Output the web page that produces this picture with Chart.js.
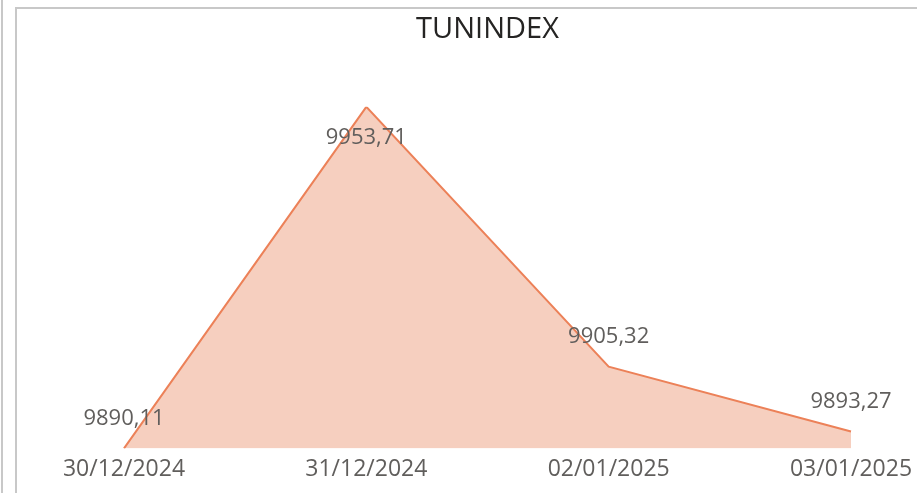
<!DOCTYPE html>
<html>
<head>
<meta charset="utf-8">
<script src="https://cdn.jsdelivr.net/npm/chart.js@4"></script>
<style>
  html, body { margin: 0; padding: 0; background: #fff; overflow: hidden; }
  #wrap { position: relative; width: 917px; height: 493px; }
  #edgeOuter { position: absolute; left: 1px; top: 0; width: 2px; height: 493px; background: #c8c8c8; }
  #frame { position: absolute; left: 15px; top: 7px; right: 0; bottom: 0;
           border-left: 2px solid #c8c8c8; border-top: 2px solid #c8c8c8; }
  canvas { position: absolute; left: 0; top: 0; }
</style>
</head>
<body>
<div id="wrap">
  <div id="edgeOuter"></div>
  <div id="frame"></div>
  <canvas id="chart" width="917" height="493"></canvas>
</div>
<script>
// データ
const dates = ["30/12/2024", "31/12/2024", "02/01/2025", "03/01/2025"];
const closeValues = [9890.11, 9953.71, 9905.32, 9893.27];
const yMin = 9890.11;
const yMax = 9953.71;

// 小数点をカンマで表示
function formatValue(v) {
  return v.toFixed(2).replace(".", ",");
}

// 値ラベルを描くプラグイン
const valueLabels = {
  id: "valueLabels",
  afterDatasetsDraw(chart, args, opts) {
    const ctx = chart.ctx;
    const meta = chart.getDatasetMeta(0);
    ctx.save();
    ctx.font = "22px 'Open Sans'";
    ctx.fillStyle = "#605E5C";
    ctx.textAlign = "center";
    ctx.textBaseline = "middle";
    meta.data.forEach((pt, i) => {
      const below = opts.below.includes(i);
      const dy = below ? 31 : -30;
      ctx.fillText(formatValue(closeValues[i]), pt.x, pt.y + dy);
    });
    ctx.restore();
  }
};

const ctx = document.getElementById("chart").getContext("2d");
new Chart(ctx, {
  type: "line",
  data: {
    labels: dates,
    datasets: [{
      data: closeValues,
      borderColor: "#EC8158",
      borderWidth: 2,
      backgroundColor: "#F6CFBF",
      fill: "start",
      pointRadius: 0,
      tension: 0,
    }],
  },
  options: {
    responsive: false,
    animation: false,
    layout: {
      padding: { left: 124, right: 66, top: 0, bottom: 3 },
    },
    scales: {
      x: {
        offset: false,
        grid: { display: false, drawTicks: false },
        border: { display: false },
        ticks: {
          color: "#605E5C",
          font: { family: "'Open Sans'", size: 23 },
          padding: 7,
          maxRotation: 0,
          autoSkip: false,
        },
        // 端のラベル分の余白は layout.padding で確保済み
        afterFit(scale) {
          scale.paddingLeft = 0;
          scale.paddingRight = 0;
        },
      },
      y: {
        display: false,
        min: yMin,
        max: yMax,
      },
    },
    plugins: {
      legend: { display: false },
      tooltip: { enabled: false },
      title: {
        display: true,
        text: "TUNINDEX",
        color: "#252423",
        font: { family: "'Open Sans'", size: 29, weight: "500" },
        padding: { top: 12, bottom: 60 },
      },
      valueLabels: { below: [1] },
    },
  },
  plugins: [valueLabels],
});
</script>
</body>
</html>
